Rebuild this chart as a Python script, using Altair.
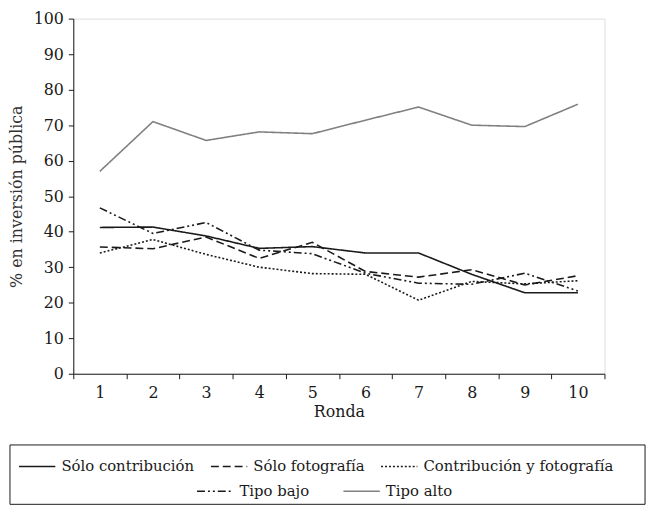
import altair as alt
import pandas as pd

rondas = list(range(1, 11))
series_names = ["Sólo contribución", "Sólo fotografía", "Contribución y fotografía", "Tipo bajo", "Tipo alto"]
solo_contribucion = [41.2, 41.3, 38.8, 35.3, 35.8, 34.0, 34.0, 28.0, 22.8, 22.8]
solo_fotografia = [35.7, 35.2, 38.5, 32.5, 37.0, 28.8, 27.2, 29.3, 25.0, 27.6]
contrib_y_foto = [34.0, 37.8, 33.6, 30.0, 28.2, 28.0, 20.7, 26.0, 25.3, 26.2]
tipo_bajo = [46.7, 39.5, 42.6, 34.8, 33.8, 28.3, 25.5, 25.2, 28.3, 23.3]
tipo_alto = [57.0, 71.0, 65.7, 68.1, 67.6, 71.4, 75.1, 70.0, 69.6, 75.9]
y_ticks = list(range(0, 101, 10))

all_vals = [solo_contribucion, solo_fotografia, contrib_y_foto, tipo_bajo, tipo_alto]
rows = []
for name, vals in zip(series_names, all_vals):
    for r, v in zip(rondas, vals):
        rows.append({"Ronda": r, "valor": v, "serie": name})
df = pd.DataFrame(rows)

FONT = "DejaVu Serif"
FS = 15
AFS = 16
BLACK = "#1a1a1a"
GRAY = "#808080"

dash_map = {
    "Sólo contribución": [1, 0],
    "Sólo fotografía": [8, 4],
    "Contribución y fotografía": [2, 2],
    "Tipo bajo": [8, 3, 2, 3, 2, 3],
    "Tipo alto": [1, 0],
}
color_map = {
    "Sólo contribución": BLACK,
    "Sólo fotografía": BLACK,
    "Contribución y fotografía": BLACK,
    "Tipo bajo": BLACK,
    "Tipo alto": GRAY,
}

x_enc = alt.X(
    "Ronda:O",
    bandPosition=0.5,
    scale=alt.Scale(type="band", paddingInner=0, paddingOuter=0),
    axis=alt.Axis(
        title="Ronda", labelAngle=0, tickBand="extent", grid=False,
        domainColor=BLACK, tickColor=BLACK, tickSize=5,
        labelFont=FONT, labelFontSize=AFS, labelColor=BLACK, labelPadding=6,
        titleFont=FONT, titleFontSize=AFS, titleFontWeight="normal", titleColor=BLACK, titlePadding=3,
    ),
)
y_enc = alt.Y(
    "valor:Q",
    scale=alt.Scale(domain=[0, 100], nice=False),
    axis=alt.Axis(
        title="% en inversión pública", values=y_ticks, grid=False,
        domainColor=BLACK, tickColor=BLACK, tickSize=5,
        labelFont=FONT, labelFontSize=AFS, labelColor=BLACK, labelPadding=5,
        titleFont=FONT, titleFontSize=AFS, titleFontWeight="normal", titleColor="#333333", titlePadding=9,
    ),
)


def legend(x, y, pad):
    return alt.Legend(
        orient="none", legendX=x, legendY=y, direction="horizontal", title=None,
        symbolType="stroke", symbolSize=1350, symbolStrokeWidth=1.6,
        labelFont=FONT, labelFontSize=FS, labelColor=BLACK, labelOffset=5,
        labelLimit=0, columnPadding=pad,
    )


def layer(names, lx, ly, pad):
    sub = df[df["serie"].isin(names)]
    return alt.Chart(sub).mark_line(strokeWidth=1.6).encode(
        x=x_enc,
        y=y_enc,
        color=alt.Color("serie:N", scale=alt.Scale(domain=names, range=[color_map[n] for n in names]),
                        sort=names, legend=legend(lx, ly, pad)),
        strokeDash=alt.StrokeDash("serie:N", scale=alt.Scale(domain=names, range=[dash_map[n] for n in names]),
                                  sort=names, legend=legend(lx, ly, pad)),
    )


layer_a = layer(series_names[:3], -56, 433, 12)
layer_b = layer(series_names[3:], 124, 458, 30)

box = alt.Chart(pd.DataFrame({"a": [0]})).mark_rect(
    fillOpacity=0, stroke=BLACK, strokeWidth=1
).encode(
    x=alt.value(-64), x2=alt.value(578), y=alt.value(431), y2=alt.value(491)
)

chart = alt.layer(layer_a, layer_b, box).resolve_scale(
    color="independent", strokeDash="independent"
).properties(
    width=537, height=359,
    autosize=alt.AutoSizeParams(type="none"),
    padding={"left": 66, "top": 8, "right": 45, "bottom": 134},
).configure_view(stroke=None).configure(background="white")

chart.save("out.html", embed_options={"renderer": "svg", "actions": False})
